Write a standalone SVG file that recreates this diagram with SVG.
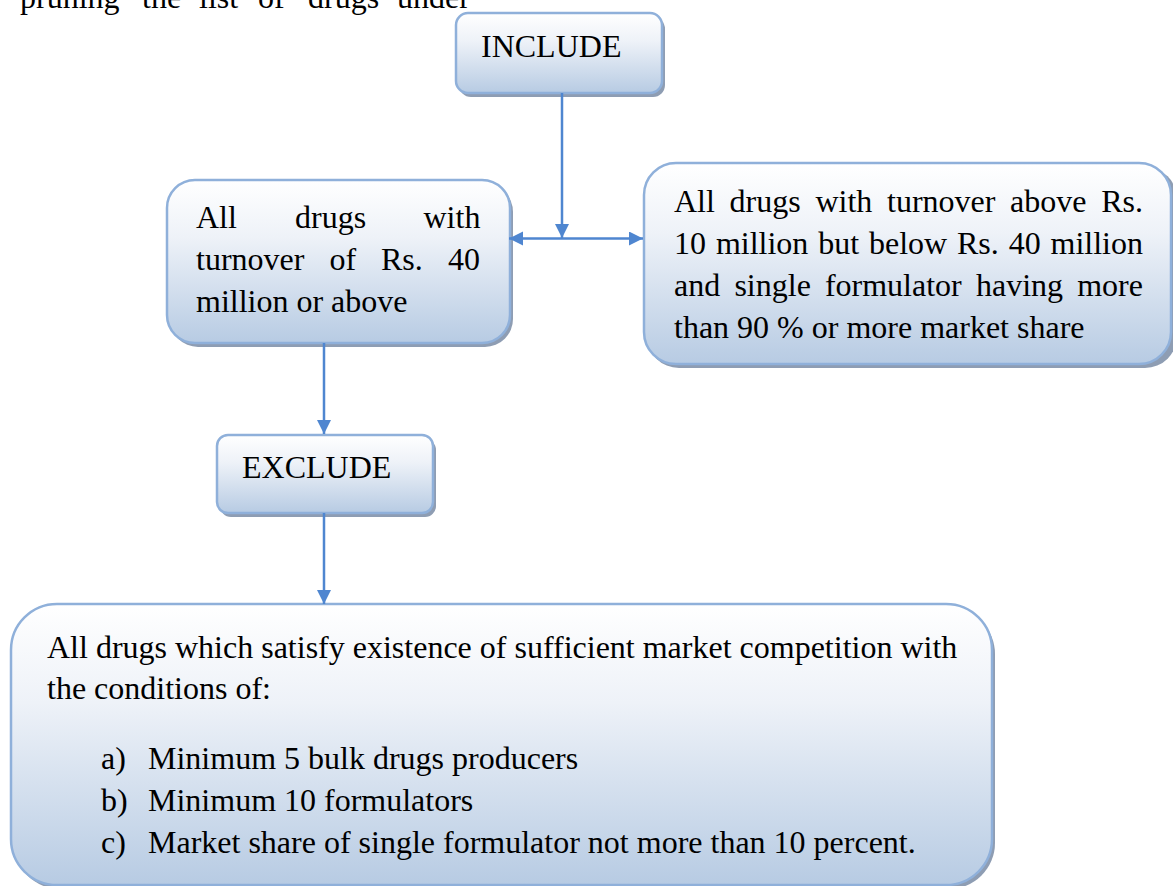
<svg xmlns="http://www.w3.org/2000/svg" width="1173" height="886" viewBox="0 0 1173 886">
<defs>
<linearGradient id="fill" x1="0" y1="0" x2="0" y2="1">
<stop offset="0" stop-color="#ffffff"/>
<stop offset="0.35" stop-color="#eef2f8"/>
<stop offset="1" stop-color="#b7cbe3"/>
</linearGradient>
<marker id="arr" markerUnits="userSpaceOnUse" markerWidth="16" markerHeight="16" refX="14" refY="7" orient="auto-start-reverse">
<path d="M0,0 L14,7 L0,14 z" fill="#4f86d0"/>
</marker>
</defs>
<style>
.box{fill:url(#fill);stroke:#8fb0da;stroke-width:2.5}
.sh{fill:#8e9db3}
.t{font-family:"Liberation Serif","Times New Roman",serif;font-size:32px;fill:#000}
.c{stroke:#4f86d0;stroke-width:2.5;fill:none}
</style>
<rect width="1173" height="886" fill="#fff"/>
<text class="t" y="8"><tspan x="20">pruning</tspan><tspan x="142">the</tspan><tspan x="199">list</tspan><tspan x="258">of</tspan><tspan x="308">drugs</tspan><tspan x="397">under</tspan></text>

<g id="include">
<rect class="sh" x="459" y="17" width="206" height="80" rx="12"/>
<rect class="box" x="456" y="13" width="206" height="80" rx="12"/>
<text class="t" x="481" y="57">INCLUDE</text>
</g>

<g id="high-turnover">
<rect class="sh" x="170" y="184" width="343" height="163" rx="28"/>
<rect class="box" x="167" y="180" width="343" height="163" rx="28"/>
<text class="t" y="228"><tspan x="196">All</tspan><tspan x="295">drugs</tspan><tspan x="423.5">with</tspan></text>
<text class="t" y="270"><tspan x="196">turnover</tspan><tspan x="329.5">of</tspan><tspan x="381">Rs.</tspan><tspan x="448">40</tspan></text>
<text class="t" x="196" y="312">million or above</text>
</g>

<g id="mid-turnover">
<rect class="sh" x="647" y="167" width="530" height="201" rx="32"/>
<rect class="box" x="644" y="163" width="527" height="201" rx="32"/>
<text class="t" y="212"><tspan x="674">All</tspan><tspan x="729.6">drugs</tspan><tspan x="815.4">with</tspan><tspan x="887">turnover</tspan><tspan x="1010.1">above</tspan><tspan x="1101.2">Rs.</tspan></text>
<text class="t" y="254"><tspan x="674">10</tspan><tspan x="715.9">million</tspan><tspan x="818.2">but</tspan><tspan x="869">below</tspan><tspan x="957">Rs.</tspan><tspan x="1008.7">40</tspan><tspan x="1050.5">million</tspan></text>
<text class="t" y="296"><tspan x="674">and</tspan><tspan x="734.4">single</tspan><tspan x="824.9">formulator</tspan><tspan x="976">having</tspan><tspan x="1077.2">more</tspan></text>
<text class="t" x="674" y="338">than 90 % or more market share</text>
</g>

<g id="exclude">
<rect class="sh" x="220" y="439" width="216" height="78" rx="11"/>
<rect class="box" x="217" y="435" width="216" height="78" rx="11"/>
<text class="t" x="242" y="478">EXCLUDE</text>
</g>

<g id="competition">
<rect class="sh" x="14" y="608" width="981" height="281" rx="46"/>
<rect class="box" x="11" y="604" width="981" height="281" rx="46"/>
<text class="t" x="47" y="658">All drugs which satisfy existence of sufficient market competition with</text>
<text class="t" x="47" y="699">the conditions of:</text>
<text class="t" x="101" y="769">a)</text><text class="t" x="148" y="769">Minimum 5 bulk drugs producers</text>
<text class="t" x="101" y="811">b)</text><text class="t" x="148" y="811">Minimum 10 formulators</text>
<text class="t" x="101" y="853">c)</text><text class="t" x="148" y="853">Market share of single formulator not more than 10 percent.</text>
</g>

<g id="connectors">
<line class="c" x1="562" y1="93" x2="562" y2="238" marker-end="url(#arr)"/>
<line class="c" x1="509" y1="238.5" x2="643" y2="238.5" marker-start="url(#arr)" marker-end="url(#arr)"/>
<line class="c" x1="324" y1="343" x2="324" y2="434" marker-end="url(#arr)"/>
<line class="c" x1="324" y1="513" x2="324" y2="604" marker-end="url(#arr)"/>
</g>
</svg>
